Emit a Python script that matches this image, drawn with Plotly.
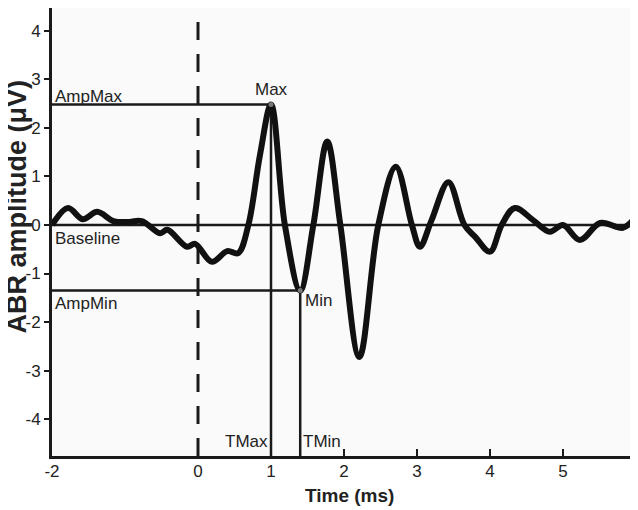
import numpy as np
import plotly.graph_objects as go

# ABR waveform (time in ms, amplitude in µV)
time_ms = [-2.0, -1.78, -1.58, -1.38, -1.16, -0.97, -0.77, -0.52, -0.42, -0.15,
           -0.04, 0.19, 0.40, 0.55, 0.69, 0.85, 1.0, 1.19, 1.40, 1.58,
           1.77, 1.95, 2.21, 2.47, 2.71, 2.93, 3.04, 3.20, 3.43, 3.65,
           3.80, 4.0, 4.16, 4.34, 4.59, 4.82, 5.0, 5.23, 5.51, 5.82, 5.96]
amplitude_uv = [0.0, 0.35, 0.12, 0.27, 0.08, 0.06, 0.08, -0.17, -0.10, -0.45,
                -0.39, -0.76, -0.54, -0.58, 0.0, 1.45, 2.48, 0.0, -1.35, 0.0,
                1.72, 0.0, -2.72, 0.0, 1.20, 0.0, -0.45, 0.10, 0.88, 0.0,
                -0.25, -0.55, 0.0, 0.35, 0.10, -0.14, 0.0, -0.31, 0.04, -0.06, 0.10]

x_tick_vals = [-2, 0, 1, 2, 3, 4, 5, 6]
y_tick_vals = [4, 3, 2, 1, 0, -1, -2, -3, -4]
x_range = [-2, 6]
y_range = [-4.76, 4.47]

t = np.array(time_ms)
a = np.array(amplitude_uv)
i_max = int(np.argmax(a))
i_min = next(i for i in range(i_max + 1, len(a) - 1) if a[i] < a[i - 1] and a[i] < a[i + 1])
t_max, amp_max = t[i_max], a[i_max]
t_min, amp_min = t[i_min], a[i_min]

LINE = "#1a1a1a"
TEXT = "#222222"
FONT = "Liberation Sans, Arial, sans-serif"

fig = go.Figure()

def ref_line(xs, ys, width=2.5, dash="solid"):
    fig.add_trace(go.Scatter(x=xs, y=ys, mode="lines", hoverinfo="skip",
                             line=dict(color=LINE, width=width, dash=dash),
                             showlegend=False))

# baseline
ref_line([x_range[0], x_range[1]], [0, 0])
# amp max / amp min horizontal lines
ref_line([x_range[0], t_max], [amp_max, amp_max])
ref_line([x_range[0], t_min], [amp_min, amp_min])
# tmax / tmin vertical lines
ref_line([t_max, t_max], [y_range[0], amp_max])
ref_line([t_min, t_min], [y_range[0], amp_min])
# stimulus onset dashed line
ref_line([0, 0], [y_range[0], y_range[1]], width=3, dash="18px,14px")

# waveform
fig.add_trace(go.Scatter(x=time_ms, y=amplitude_uv, mode="lines",
                         line=dict(color="#111111", width=6, shape="spline", smoothing=1.0),
                         showlegend=False))
# max / min markers
fig.add_trace(go.Scatter(x=[t_max, t_min], y=[amp_max, amp_min], mode="markers",
                         marker=dict(color="#777777", size=5), showlegend=False))

ann_font = dict(family=FONT, size=17, color=TEXT)
annotations = [
    dict(x=x_range[0], y=amp_max, text="AmpMax", xanchor="left", yanchor="bottom", xshift=1, yshift=-3),
    dict(x=t_max, y=amp_max, text="Max", xanchor="center", yanchor="bottom", yshift=4),
    dict(x=x_range[0], y=0, text="Baseline", xanchor="left", yanchor="top", xshift=1, yshift=-2),
    dict(x=x_range[0], y=amp_min, text="AmpMin", xanchor="left", yanchor="top", xshift=1, yshift=-2),
    dict(x=t_min, y=amp_min, text="Min", xanchor="left", yanchor="top", xshift=3, yshift=1),
    dict(x=t_max, y=y_range[0], text="TMax", xanchor="right", yanchor="bottom", xshift=-1, yshift=3),
    dict(x=t_min, y=y_range[0], text="TMin", xanchor="left", yanchor="bottom", xshift=1, yshift=3),
]
for an in annotations:
    fig.add_annotation(showarrow=False, font=ann_font, **an)

# axis titles
fig.add_annotation(text="<b>Time (ms)</b>", xref="paper", yref="paper", x=0.5086, y=-0.089,
                   xanchor="center", yanchor="middle", showarrow=False,
                   font=dict(family=FONT, size=19, color=TEXT))
fig.add_annotation(text="<b>ABR amplitude (μV)</b>", xref="paper", yref="paper", x=-0.0605, y=0.556,
                   xanchor="center", yanchor="middle", textangle=-90, showarrow=False,
                   font=dict(family=FONT, size=27, color=TEXT))

# the page body adds an 8px offset, so the figure is sized to fill the rest of the window
fig.update_layout(
    width=630, height=502,
    margin=dict(l=44, r=2, t=0, b=54),
    paper_bgcolor="white", plot_bgcolor="#fafafa",
    font=dict(family=FONT, color=TEXT),
    showlegend=False,
)
fig.update_xaxes(range=x_range, tickvals=x_tick_vals, ticktext=[str(v) for v in x_tick_vals],
                 showgrid=False, zeroline=False, showline=True, linecolor=LINE, linewidth=3,
                 ticks="inside", ticklen=7, tickwidth=2, tickcolor=LINE, automargin=False,
                 ticklabelstandoff=-2,
                 tickfont=dict(family=FONT, size=17, color=TEXT))
fig.update_yaxes(range=y_range, tickvals=y_tick_vals, ticktext=[str(v) for v in y_tick_vals],
                 showgrid=False, zeroline=False, showline=True, linecolor=LINE, linewidth=3,
                 ticks="outside", ticklen=5, tickwidth=2, tickcolor=LINE, automargin=False,
                 tickfont=dict(family=FONT, size=17, color=TEXT))

fig.write_html("out.html")
